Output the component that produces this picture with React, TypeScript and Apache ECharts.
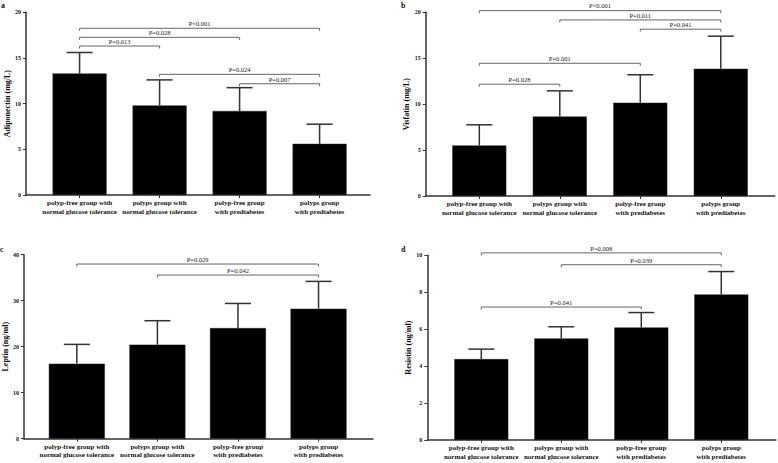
import React, { useEffect, useRef } from 'react';
import * as echarts from 'echarts';

const FONT = '"Liberation Serif", "Times New Roman", serif';

const categories = [
  'polyp-free group with\nnormal glucose tolerance',
  'polyps group with\nnormal glucose tolerance',
  'polyp-free group\nwith prediabetes',
  'polyps group\nwith prediabetes',
];

// Panel a: Adiponectin
const adiponectinMean = [13.3, 9.8, 9.2, 5.6];
const adiponectinUpper = [15.6, 12.6, 11.75, 7.75];
const adiponectinPairs = [[0, 3, 18.25], [0, 2, 17.26], [0, 1, 16.31], [1, 3, 13.21], [2, 3, 12.18]];
const adiponectinP = ['P<0.001', 'P=0.028', 'P=0.013', 'P=0.024', 'P=0.007'];

// Panel b: Visfatin
const visfatinMean = [5.5, 8.65, 10.15, 13.85];
const visfatinUpper = [7.75, 11.45, 13.2, 17.4];
const visfatinPairs = [[0, 3, 20.18], [1, 3, 19.17], [2, 3, 18.16], [0, 2, 14.45], [0, 1, 12.17]];
const visfatinP = ['P<0.001', 'P=0.011', 'P=0.041', 'P=0.001', 'P=0.028'];

// Panel c: Leptin
const leptinMean = [16.3, 20.45, 24.05, 28.25];
const leptinUpper = [20.5, 25.65, 29.4, 34.2];
const leptinPairs = [[0, 3, 37.97], [1, 3, 35.58]];
const leptinP = ['P=0.029', 'P=0.042'];

// Panel d: Resistin
const resistinMean = [4.38, 5.5, 6.09, 7.88];
const resistinUpper = [4.92, 6.13, 6.9, 9.12];
const resistinPairs = [[0, 3, 10.13], [1, 3, 9.49], [0, 2, 7.2]];
const resistinP = ['P=0.008', 'P=0.039', 'P=0.041'];

const panels = [
  {
    letter: 'a', name: 'Adiponectin (mg/L)', max: 20, interval: 5,
    mean: adiponectinMean, upper: adiponectinUpper, pairs: adiponectinPairs, pv: adiponectinP,
    grid: { left: 26, top: 12.3, width: 344, height: 182.7 }, xmin: -0.67, xmax: 3.63,
    nameGap: 14, barWidth: 54, letterPos: [1, 1],
  },
  {
    letter: 'b', name: 'Visfatin (mg/L)', max: 20, interval: 5,
    mean: visfatinMean, upper: visfatinUpper, pairs: visfatinPairs, pv: visfatinP,
    grid: { left: 425.7, top: 12.3, width: 349, height: 183.7 }, xmin: -0.666, xmax: 3.67,
    nameGap: 15, barWidth: 54, letterPos: [401, 1],
  },
  {
    letter: 'c', name: 'Leptin (ng/ml)', max: 40, interval: 10,
    mean: leptinMean, upper: leptinUpper, pairs: leptinPairs, pv: leptinP,
    grid: { left: 23.3, top: 254.7, width: 349.7, height: 184 }, xmin: -0.657, xmax: 3.676,
    nameGap: 14, barWidth: 56, letterPos: [0, 245],
  },
  {
    letter: 'd', name: 'Resistin (ng/ml)', max: 10, interval: 2,
    mean: resistinMean, upper: resistinUpper, pairs: resistinPairs, pv: resistinP,
    grid: { left: 427.3, top: 255.3, width: 348.7, height: 184.7 }, xmin: -0.675, xmax: 3.684,
    nameGap: 13.5, barWidth: 54, letterPos: [401, 245],
  },
];

export default function App() {
  const ref = useRef<HTMLDivElement>(null);
  useEffect(() => {
    if (!ref.current) return;
    const chart = echarts.init(ref.current, null, { renderer: 'svg' });
    const axisColor = '#333';
    const option: any = {
      animation: false,
      backgroundColor: '#fff',
      grid: panels.map((p) => ({ ...p.grid, containLabel: false })),
      xAxis: panels.map((p, i) => ({
        type: 'value', gridIndex: i, min: p.xmin, max: p.xmax,
        splitLine: { show: false },
        axisLine: { show: true, onZero: false, lineStyle: { color: axisColor, width: 1.5 } },
        axisTick: { show: true, customValues: [0, 1, 2, 3], length: 3, lineStyle: { color: axisColor, width: 1 } },
        axisLabel: {
          customValues: [0, 1, 2, 3],
          formatter: (v: number) => categories[Math.round(v)] ?? '',
          fontFamily: FONT, fontWeight: 'bold', fontSize: 7, lineHeight: 8.4, color: '#111', margin: 4,
        },
      })),
      yAxis: panels.map((p, i) => ({
        type: 'value', gridIndex: i, min: 0, max: p.max, interval: p.interval,
        name: p.name, nameLocation: 'middle', nameGap: p.nameGap,
        nameTextStyle: { fontFamily: FONT, fontWeight: 'bold', fontSize: 8, color: '#111' },
        splitLine: { show: false },
        axisLine: { show: true, onZero: false, lineStyle: { color: axisColor, width: 1.5 } },
        axisTick: { show: true, length: 3, lineStyle: { color: axisColor, width: 1 } },
        axisLabel: { fontFamily: FONT, fontWeight: 'bold', fontSize: 6, color: '#111', margin: 5 },
      })),
      graphic: panels.map((p) => ({
        type: 'text', left: p.letterPos[0], top: p.letterPos[1],
        style: { text: p.letter, font: `bold 8px ${FONT}`, fill: '#111' },
      })),
      series: [] as any[],
    };
    panels.forEach((p, i) => {
      option.series.push({
        type: 'bar', xAxisIndex: i, yAxisIndex: i,
        data: p.mean.map((v, j) => [j, v]),
        barWidth: p.barWidth,
        itemStyle: { color: '#000', borderColor: '#222', borderWidth: 0.5 },
        z: 2,
      });
      option.series.push({
        type: 'custom', xAxisIndex: i, yAxisIndex: i, clip: false, z: 3,
        data: p.mean.map((v, j) => [j, v, p.upper[j]]),
        renderItem: (params: any, api: any) => {
          const x = api.value(0);
          const base = api.coord([x, api.value(1)]);
          const top = api.coord([x, api.value(2)]);
          const hw = 13;
          return {
            type: 'group',
            children: [
              { type: 'line', shape: { x1: base[0], y1: base[1], x2: top[0], y2: top[1] }, style: { stroke: '#333', lineWidth: 1.5 } },
              { type: 'line', shape: { x1: top[0] - hw, y1: top[1], x2: top[0] + hw, y2: top[1] }, style: { stroke: '#333', lineWidth: 1.5 } },
            ],
          };
        },
      });
      option.series.push({
        type: 'custom', xAxisIndex: i, yAxisIndex: i, clip: false, z: 4,
        data: p.pairs,
        renderItem: (params: any, api: any) => {
          const a = api.coord([api.value(0), api.value(2)]);
          const b = api.coord([api.value(1), api.value(2)]);
          const t = 2.5;
          return {
            type: 'group',
            children: [
              {
                type: 'polyline',
                shape: { points: [[a[0], a[1] + t], [a[0], a[1]], [b[0], b[1]], [b[0], b[1] + t]] },
                style: { stroke: '#666', lineWidth: 1, fill: 'none' },
              },
              {
                type: 'text',
                style: {
                  text: p.pv[params.dataIndex], x: (a[0] + b[0]) / 2, y: a[1] - 1.2,
                  align: 'center', verticalAlign: 'bottom',
                  font: `6.5px ${FONT}`, fill: '#222',
                },
              },
            ],
          };
        },
      });
    });
    chart.setOption(option);
    return () => chart.dispose();
  }, []);
  return (
    <div
      ref={ref}
      style={{ position: 'fixed', left: 0, top: 0, width: 778, height: 463, background: '#fff' }}
    />
  );
}
